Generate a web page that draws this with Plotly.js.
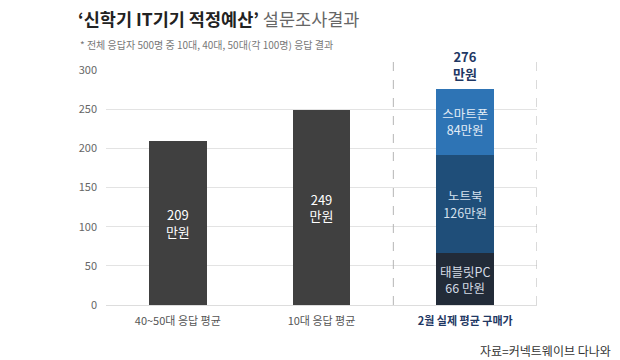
<!DOCTYPE html>
<html>
<head>
<meta charset="utf-8">
<script src="https://cdn.plot.ly/plotly-3.0.1.min.js"></script>
<style>html,body{margin:0;padding:0;background:#fff;}#chart{width:620px;height:360px;}</style>
</head>
<body>
<div id="chart"></div>
<script>
const categories = ['40~50대 응답 평균', '10대 응답 평균', '2월 실제 평균 구매가'];
const surveyValues = [209, 249, null];
const tabletValues = [null, null, 66];
const notebookValues = [null, null, 126];
const phoneValues = [null, null, 84];
const totalActual = 276;
const yTicks = [0, 50, 100, 150, 200, 250, 300];

const F = '"Noto Sans CJK KR", "Noto Sans", sans-serif';
const idx = [0, 1, 2];

const traces = [
  {
    type: 'bar', x: idx, y: surveyValues, width: 0.4,
    marker: {color: '#404040'},
    text: surveyValues.map(v => v == null ? '' : v + '<br>만원'),
    textposition: 'inside', insidetextanchor: 'middle', constraintext: 'none',
    textfont: {family: F, size: 13, color: '#ffffff'}, hoverinfo: 'skip'
  },
  {
    type: 'bar', x: idx, y: tabletValues, width: 0.4,
    marker: {color: '#222b38'},
    text: tabletValues.map(v => v == null ? '' : '태블릿PC<br>' + v + ' 만원'),
    textposition: 'inside', insidetextanchor: 'middle', constraintext: 'none',
    textfont: {family: F, size: 12.5, color: '#d5dce6'}, hoverinfo: 'skip'
  },
  {
    type: 'bar', x: idx, y: notebookValues, width: 0.4,
    marker: {color: '#1f4e79'},
    text: notebookValues.map(v => v == null ? '' : '노트북<br>' + v + '만원'),
    textposition: 'inside', insidetextanchor: 'middle', constraintext: 'none',
    textfont: {family: F, size: 12.5, color: '#d5e1ee'}, hoverinfo: 'skip'
  },
  {
    type: 'bar', x: idx, y: phoneValues, width: 0.4,
    marker: {color: '#2e74b5'},
    text: phoneValues.map(v => v == null ? '' : '스마트폰<br>' + v + '만원'),
    textposition: 'inside', insidetextanchor: 'middle', constraintext: 'none',
    textfont: {family: F, size: 12.5, color: '#e3ecf6'}, hoverinfo: 'skip'
  }
];

const tickText = categories.map((c, i) => i === 2 ? '<b><span style="color:#1f3864">' + c + '</span></b>' : c);

// pixel helpers for the plot area (l=106, plot width 431, top 70, height 235)
const px = x => (x - 106) / 431;
const py = y => (305 - y) / 235;

const layout = {
  width: 620, height: 360,
  margin: {l: 106, r: 83, t: 70, b: 55},
  paper_bgcolor: '#ffffff', plot_bgcolor: '#ffffff',
  barmode: 'stack', showlegend: false,
  font: {family: F, color: '#555555'},
  title: {
    text: '<b><span style="color:#222222">‘신학기 IT기기 적정예산’</span></b> <span style="color:#666666">설문조사결과</span>',
    font: {family: F, size: 17.5},
    x: 78 / 620, xanchor: 'left', xref: 'container',
    y: 1 - 20 / 360, yanchor: 'middle', yref: 'container'
  },
  xaxis: {
    range: [-0.5, 2.5], tickvals: idx, ticktext: tickText,
    showgrid: false, zeroline: false, showline: false, ticks: '',
    tickfont: {family: F, size: 11, color: '#555555'},
    ticklabelstandoff: 8
  },
  yaxis: {
    range: [0, 300], tickvals: yTicks,
    showgrid: true, gridcolor: '#e3e3e3', gridwidth: 1,
    zeroline: true, zerolinecolor: '#dddddd', zerolinewidth: 1,
    showline: false, ticks: '',
    tickfont: {family: F, size: 11, color: '#666666'},
    ticklabelstandoff: 8
  },
  shapes: [
    {type: 'line', xref: 'x', yref: 'paper', x0: 1.5, x1: 1.5, y0: 0, y1: py(60), line: {color: '#b5b5b5', width: 1, dash: 'dash'}},
    {type: 'line', xref: 'x', yref: 'paper', x0: 2.5, x1: 2.5, y0: 0, y1: py(60), line: {color: '#b5b5b5', width: 1, dash: 'dash'}}
  ],
  annotations: [
    {
      xref: 'x', yref: 'y', x: 2, y: totalActual, yanchor: 'bottom', yshift: 3,
      text: '<b>' + totalActual + '<br>만원</b>', showarrow: false,
      font: {family: F, size: 13, color: '#1f3864'}, bgcolor: '#ffffff', borderpad: 2
    },
    {
      xref: 'paper', yref: 'paper', x: px(78), xanchor: 'left',
      y: py(45), yanchor: 'middle',
      text: '* 전체 응답자 500명 중 10대, 40대, 50대(각 100명) 응답 결과', showarrow: false,
      font: {family: F, size: 10, color: '#777777'}
    },
    {
      xref: 'paper', yref: 'paper', x: px(613), xanchor: 'right',
      y: py(350), yanchor: 'middle',
      text: '자료=커넥트웨이브 다나와', showarrow: false,
      font: {family: F, size: 12, color: '#333333'}
    }
  ]
};

Plotly.newPlot('chart', traces, layout, {staticPlot: true, displayModeBar: false});
</script>
</body>
</html>
